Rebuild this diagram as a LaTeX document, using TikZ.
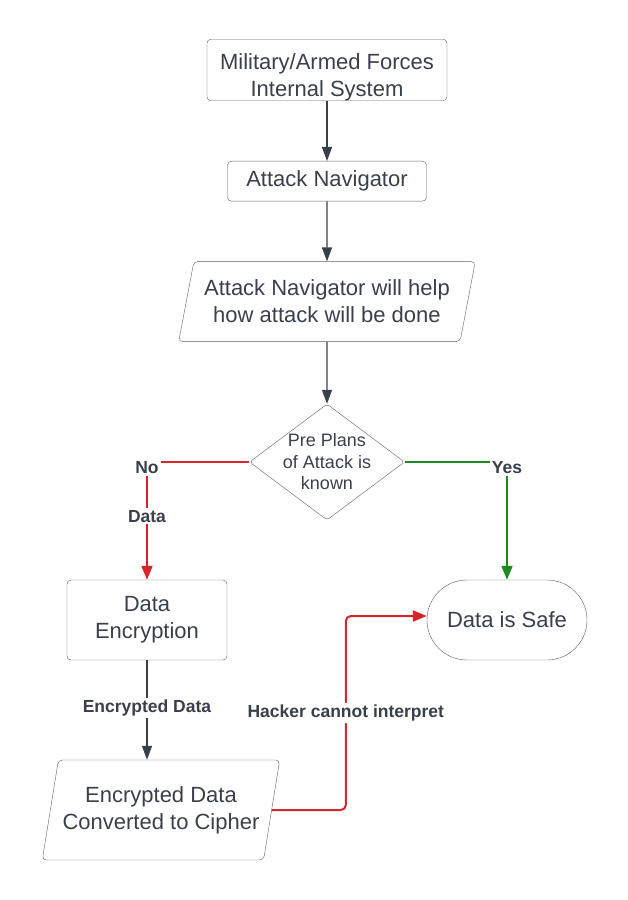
\documentclass[tikz,border=0pt]{standalone}
\usepackage{fontspec}
\setmainfont{Liberation Sans}
\usetikzlibrary{shapes.geometric,shapes.misc,arrows.meta,positioning}
\definecolor{inkgray}{HTML}{3A4049}
\definecolor{edgegray}{HTML}{5B6068}
\definecolor{noRed}{HTML}{D7262B}
\definecolor{yesGreen}{HTML}{1C8A20}

\begin{document}
\begin{tikzpicture}[x=1pt, y=-1pt, node distance=60pt,
        block/.style={rectangle, draw=edgegray, rounded corners=4pt, text=inkgray, align=center, inner sep=0pt, font=\fontsize{22}{27}\selectfont},
        io/.style={trapezium, trapezium left angle=72, trapezium right angle=108, trapezium stretches=true, draw=edgegray, rounded corners=4pt, text=inkgray, align=center, inner sep=0pt, font=\fontsize{22}{27}\selectfont},
        decision/.style={diamond, draw=edgegray, rounded corners=3pt, aspect=1.34, inner sep=-6pt, text=inkgray, align=center, font=\fontsize{18}{21.5}\selectfont},
        terminal/.style={rounded rectangle, draw=edgegray, text=inkgray, align=center, inner sep=0pt, font=\fontsize{22}{27}\selectfont},
        flow/.style={draw=inkgray, line width=1.3pt, -{Triangle[length=14pt,width=10pt]}},
        noline/.style={draw=noRed, line width=2pt, -{Triangle[length=14pt,width=11pt]}},
        yesline/.style={draw=yesGreen, line width=2pt, -{Triangle[length=14pt,width=11pt]}},
        tag/.style={fill=white, text=inkgray, inner sep=2pt, font=\bfseries\fontsize{17.5}{20}\selectfont}]

        \useasboundingbox (0,0) rectangle (627,900);

        % main column
        \node[block, minimum width=240pt, minimum height=60pt] (mil) at (327,70) {\rule{0pt}{30pt}Military/Armed Forces\\Internal System};
        \node[block, minimum width=199pt, minimum height=40pt, below=of mil] (nav) {Attack Navigator};
        \node[io, minimum width=297pt, minimum height=80pt, below=of nav] (help) {Attack Navigator will help\\how attack will be done};
        \node[decision, minimum width=155pt, minimum height=116pt, below=62pt of help] (decide) {Pre Plans\\of Attack is\\known};

        % branches
        \node[block, minimum width=160pt, minimum height=80pt] (encrypt) at (147,620) {Data\\Encryption};
        \node[terminal, minimum width=160pt, minimum height=80pt] (safe) at (507,620) {Data is Safe};
        \node[io, minimum width=238pt, minimum height=100pt] (cipher) at (161,810) {Encrypted Data\\Converted to Cipher};

        \draw[flow] (mil) -- (nav);
        \draw[flow] (nav) -- (help);
        \draw[flow] (help) -- (decide);
        \draw[noline] (decide.west) -| node[tag, pos=0.5, yshift=-6pt] {No} node[tag, pos=0.73] {Data} (encrypt.north);
        \draw[yesline] (decide.east) -| node[tag, pos=0.5, yshift=-6pt] {Yes} (safe.north);
        \draw[flow] (encrypt.south) -- node[tag, pos=0.48] {Encrypted Data} (encrypt.south |- cipher.north);
        \draw[noline, rounded corners=5pt] (cipher.east) -- ++(74,0) |- node[tag, pos=0.25] {Hacker cannot interpret} ([yshift=4pt]safe.west);

\end{tikzpicture}
\end{document}
